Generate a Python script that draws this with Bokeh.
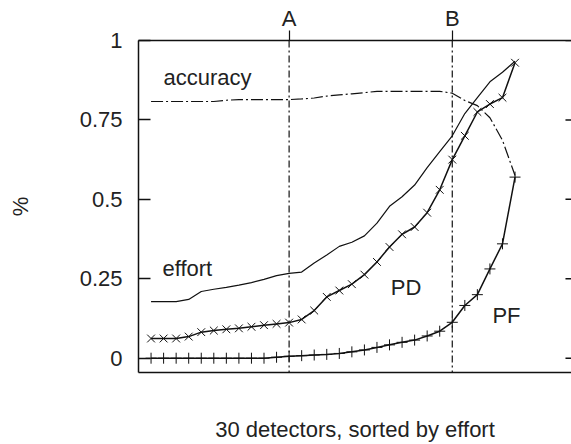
from bokeh.plotting import figure
from bokeh.models import LinearAxis, FixedTicker, Span, Label, Range1d
from bokeh.embed import file_html
from bokeh.resources import INLINE

# ---- data ----
detectors = list(range(1, 31))
effort = [0.178, 0.178, 0.178, 0.185, 0.21, 0.217, 0.223, 0.23, 0.238, 0.248,
          0.26, 0.267, 0.271, 0.30, 0.325, 0.352, 0.365, 0.385, 0.425, 0.478,
          0.508, 0.545, 0.60, 0.65, 0.70, 0.77, 0.82, 0.87, 0.90, 0.935]
pd_vals = [0.062, 0.062, 0.062, 0.068, 0.082, 0.087, 0.091, 0.094, 0.099, 0.104,
           0.108, 0.112, 0.122, 0.15, 0.193, 0.213, 0.233, 0.263, 0.303, 0.35,
           0.39, 0.413, 0.458, 0.53, 0.625, 0.70, 0.775, 0.80, 0.82, 0.93]
pf_vals = [0, 0, 0, 0, 0, 0, 0, 0, 0, 0,
           0.003, 0.006, 0.008, 0.01, 0.012, 0.015, 0.02, 0.026, 0.034, 0.042,
           0.05, 0.057, 0.07, 0.085, 0.113, 0.166, 0.20, 0.281, 0.36, 0.57]
accuracy = [0.808, 0.808, 0.808, 0.808, 0.808, 0.808, 0.812, 0.814, 0.814, 0.814,
            0.814, 0.814, 0.816, 0.819, 0.825, 0.829, 0.832, 0.836, 0.840, 0.840,
            0.840, 0.840, 0.840, 0.840, 0.834, 0.811, 0.795, 0.757, 0.686, 0.575]
cut_positions = [12, 25]
cut_labels = ["A", "B"]
yticks = [0, 0.25, 0.5, 0.75, 1]
ytick_labels = ["0", "0.25", "0.5", "0.75", "1"]

FONT = "Liberation Sans"
FS = "22px"
INK = "#111111"
TXT = "#222222"
X_END = 34.5

p = figure(width=571, height=444, x_range=Range1d(0, X_END), y_range=Range1d(-0.045, 1.0),
           output_backend="svg", toolbar_location=None,
           min_border_left=138, min_border_right=0, min_border_top=40, min_border_bottom=72)
p.outline_line_color = None
p.xgrid.visible = False
p.ygrid.visible = False
p.background_fill_color = "white"
p.border_fill_color = "white"

# left axis
ya = p.yaxis[0]
ya.ticker = FixedTicker(ticks=yticks)
ya.major_label_overrides = dict(zip(yticks, ytick_labels))
ya.major_tick_in = 12
ya.major_tick_out = 0
ya.minor_tick_in = 0
ya.minor_tick_out = 0
ya.axis_line_width = 1.5
ya.major_tick_line_width = 1.5
ya.axis_line_color = INK
ya.major_tick_line_color = INK
ya.major_label_standoff = 16
ya.major_label_text_font = FONT
ya.major_label_text_font_size = FS
ya.major_label_text_color = TXT
ya.axis_label = "%"
ya.axis_label_standoff = 44
ya.axis_label_text_font = FONT
ya.axis_label_text_font_size = FS
ya.axis_label_text_font_style = "normal"
ya.axis_label_text_color = TXT

# bottom axis
xa = p.xaxis[0]
xa.ticker = FixedTicker(ticks=[])
xa.major_tick_in = 0
xa.major_tick_out = 0
xa.minor_tick_in = 0
xa.minor_tick_out = 0
xa.major_label_standoff = 0
xa.axis_line_width = 1.5
xa.axis_line_color = INK
xa.axis_label = "30 detectors, sorted by effort"
xa.axis_label_standoff = 44
xa.axis_label_text_font = FONT
xa.axis_label_text_font_size = FS
xa.axis_label_text_font_style = "normal"
xa.axis_label_text_color = TXT

# top axis with A / B
ta = LinearAxis(ticker=FixedTicker(ticks=cut_positions),
                major_label_overrides=dict(zip(cut_positions, cut_labels)),
                major_tick_in=0, major_tick_out=10, minor_tick_in=0, minor_tick_out=0,
                major_label_standoff=0, axis_line_width=1.5, axis_line_color=INK,
                major_tick_line_width=1.2, major_tick_line_color=INK,
                major_label_text_font=FONT, major_label_text_font_size=FS,
                major_label_text_color=TXT)
p.add_layout(ta, "above")

for c in cut_positions:
    p.add_layout(Span(location=c, dimension="height", line_dash="7 3 2 3",
                      line_width=1.2, line_color=INK))

# right-side inward ticks
p.segment(x0=[X_END - 0.48] * len(yticks), x1=[X_END] * len(yticks), y0=yticks, y1=yticks,
          line_color=INK, line_width=1.5)

# curves
p.line(detectors, effort, line_color=INK, line_width=1.2)
p.line(detectors, accuracy, line_color=INK, line_width=1.2, line_dash="12 3 2 3")
p.line(detectors, pd_vals, line_color=INK, line_width=1.5)
p.scatter(detectors, pd_vals, marker="x", size=11, line_color=INK, line_width=1)
p.line(detectors, pf_vals, line_color=INK, line_width=1.5)
p.scatter(detectors, pf_vals, marker="cross", size=11, line_color=INK, line_width=1)

for txt, x, y in [("accuracy", 1.99, 0.884), ("effort", 1.91, 0.281),
                  ("PD", 20.1, 0.2235), ("PF", 28.2, 0.134)]:
    p.add_layout(Label(x=x, y=y, text=txt, text_font=FONT, text_font_size=FS,
                       text_color=TXT, text_baseline="alphabetic"))

open("out.html", "w").write(file_html(p, INLINE))
